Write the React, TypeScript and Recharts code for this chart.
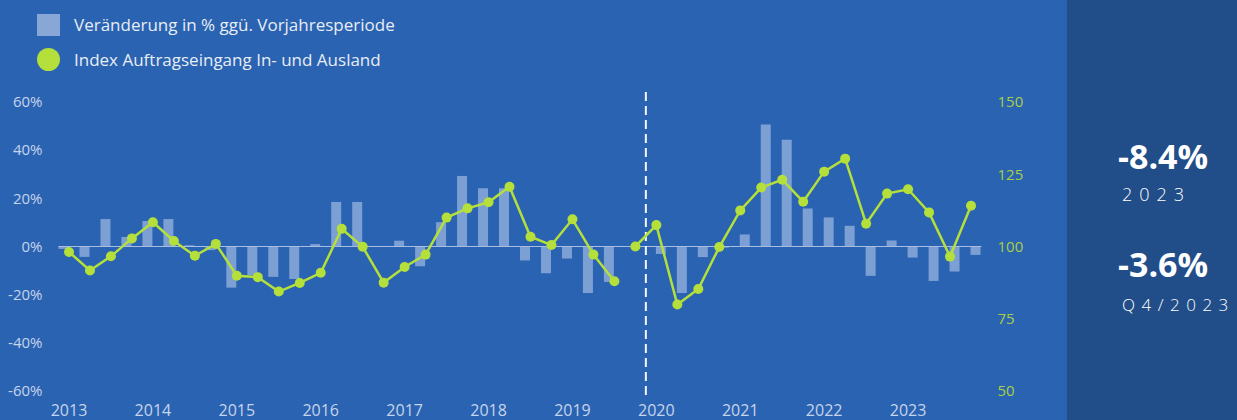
import React from 'react';
import {
  ComposedChart, Bar, Line, XAxis, YAxis, ReferenceLine,
} from 'recharts';

// quarter categories 2013 Q1 .. 2023 Q4
const years = ['2013', '2014', '2015', '2016', '2017', '2018', '2019', '2020', '2021', '2022', '2023'];
const quarters = years.flatMap((y) => ['Q1', 'Q2', 'Q3', 'Q4'].map((q) => `${q}/${y}`));

// % change vs. previous year period, 2013 Q1 .. 2019 Q4 (old series)
const changeOld: (number | null)[] = [
  -1, -4.3, 11.4, 3.9,
  10.6, 11.4, 0.5, -1.5,
  -17.1, -12, -12.6, -13.5,
  1, 18.5, 18.5, 0.2,
  2.4, -8.2, 10.1, 29.3,
  24.2, 24.2, -5.8, -11.1,
  -5, -19.3, -14.7, null,
];
// % change, 2020 Q1 .. 2023 Q4 (new series)
const changeNew: number[] = [
  -3.1, -19.3, -4.4, -0.5,
  5, 50.7, 44.3, 15.8,
  12.1, 8.6, -12.2, 2.5,
  -4.6, -14.3, -10.4, -3.5,
];

// order intake index, 2013 Q1 .. 2019 Q3
const indexOld = [
  98.1, 91.7, 96.6, 102.8,
  108.4, 101.9, 96.8, 100.9,
  89.9, 89.4, 84.4, 87.4,
  90.9, 106.1, 99.9, 87.5,
  92.9, 97.2, 110, 113.2,
  115.3, 120.7, 103.4, 100.5,
  109.4, 97.2, 88,
];
// order intake index, 2019 Q4 .. 2023 Q4 (rebased)
const indexNew = [
  100,
  107.4, 79.9, 85.3, 99.8,
  112.5, 120.4, 123.1, 115.5,
  125.9, 130.4, 107.9, 118.3,
  119.8, 111.8, 96.5, 114.1,
];

const pctTicks = [-60, -40, -20, 0, 20, 40, 60];
const idxTicks = [50, 75, 100, 125, 150];

const data = quarters.map((q, i) => ({
  q,
  chOld: i < changeOld.length ? changeOld[i] : null,
  chNew: i >= changeOld.length ? changeNew[i - changeOld.length] : null,
  idxOld: i < indexOld.length ? indexOld[i] : null,
  idxNew: i >= indexOld.length ? indexNew[i - indexOld.length] : null,
}));

const BG = '#2a63b1';
const PANEL = '#214d89';
const BAR = '#7c9fd4';
const GREEN = '#b5df3a';
const LABEL = '#c6d4ec';
const FONT = '"Open Sans", sans-serif';

const dashShape = (p: any) => (
  <line
    x1={p.x1} x2={p.x2} y1={Math.min(p.y1, p.y2) - 10} y2={Math.max(p.y1, p.y2) + 9}
    stroke="#f2f5fb" strokeWidth={2} strokeDasharray="9 5"
  />
);

export default function App() {
  return (
    <div style={{ position: 'absolute', left: 0, top: 0, width: 1237, height: 420, background: BG, fontFamily: FONT, overflow: 'hidden' }}>
      <div style={{ position: 'absolute', left: 37, top: 13, color: '#e8edf6', fontSize: 17 }}>
        <div style={{ display: 'flex', alignItems: 'center', height: 23 }}>
          <span style={{ width: 23, height: 22, background: '#88a7d6', display: 'inline-block' }} />
          <span style={{ marginLeft: 14 }}>Veränderung in % ggü. Vorjahresperiode</span>
        </div>
        <div style={{ display: 'flex', alignItems: 'center', height: 23, marginTop: 12 }}>
          <span style={{ width: 23, height: 23, borderRadius: '50%', background: GREEN, display: 'inline-block' }} />
          <span style={{ marginLeft: 14 }}>Index Auftragseingang In- und Ausland</span>
        </div>
      </div>

      <ComposedChart
        width={1067}
        height={420}
        data={data}
        margin={{ top: 102, right: 0, bottom: 0, left: 0 }}
        barGap={0}
        style={{ position: 'absolute', left: 0, top: 0 }}
      >
        <XAxis
          dataKey="q"
          interval={3}
          height={29}
          tickFormatter={(v: string) => v.slice(3)}
          tick={{ fill: LABEL, fontSize: 16, fontFamily: FONT }}
          tickLine={false}
          axisLine={false}
          tickSize={0}
          tickMargin={14}
        />
        <YAxis
          yAxisId="left"
          domain={[-60, 60]}
          ticks={pctTicks}
          tickFormatter={(v: number) => `${v}%`}
          width={58.5}
          tick={{ fill: LABEL, fontSize: 15, fontFamily: FONT }}
          tickLine={false}
          axisLine={false}
          tickSize={0}
          tickMargin={16}
        />
        <YAxis
          yAxisId="right"
          orientation="right"
          domain={[50, 150]}
          ticks={idxTicks}
          width={85.5}
          tick={{ fill: '#a9cf44', fontSize: 15, fontFamily: FONT, textAnchor: 'start' }}
          tickLine={false}
          axisLine={false}
          tickSize={0}
          tickMargin={16}
        />
        <ReferenceLine yAxisId="left" y={0} stroke="#a9bde2" strokeWidth={1.2} />
        <ReferenceLine
          yAxisId="left"
          x="Q1/2020"
          position="start"
          stroke="#f2f5fb"
          strokeWidth={2}
          strokeDasharray="9 5"
          shape={dashShape}
        />
        <Bar yAxisId="left" dataKey="chOld" fill={BAR} barSize={10} isAnimationActive={false} />
        <Bar yAxisId="left" dataKey="chNew" fill={BAR} barSize={10} isAnimationActive={false} />
        <Line
          yAxisId="right"
          dataKey="idxOld"
          stroke={GREEN}
          strokeWidth={2.5}
          dot={{ r: 5, fill: GREEN, stroke: 'none' }}
          activeDot={false}
          isAnimationActive={false}
        />
        <Line
          yAxisId="right"
          dataKey="idxNew"
          stroke={GREEN}
          strokeWidth={2.5}
          dot={{ r: 5, fill: GREEN, stroke: 'none' }}
          activeDot={false}
          isAnimationActive={false}
        />
      </ComposedChart>

      <div style={{ position: 'absolute', left: 1067, top: 0, width: 170, height: 420, background: PANEL, color: '#ffffff' }}>
        <div style={{ position: 'absolute', left: 51, top: 139, fontSize: 34, lineHeight: '34px', fontWeight: 700 }}>-8.4%</div>
        <div style={{ position: 'absolute', left: 55, top: 185, fontSize: 18, lineHeight: '18px', letterSpacing: 7, fontWeight: 300, whiteSpace: 'nowrap' }}>2023</div>
        <div style={{ position: 'absolute', left: 51, top: 247, fontSize: 34, lineHeight: '34px', fontWeight: 700 }}>-3.6%</div>
        <div style={{ position: 'absolute', left: 55, top: 296, fontSize: 17, lineHeight: '18px', letterSpacing: 6.5, fontWeight: 300, whiteSpace: 'nowrap' }}>Q4/2023</div>
      </div>
    </div>
  );
}
